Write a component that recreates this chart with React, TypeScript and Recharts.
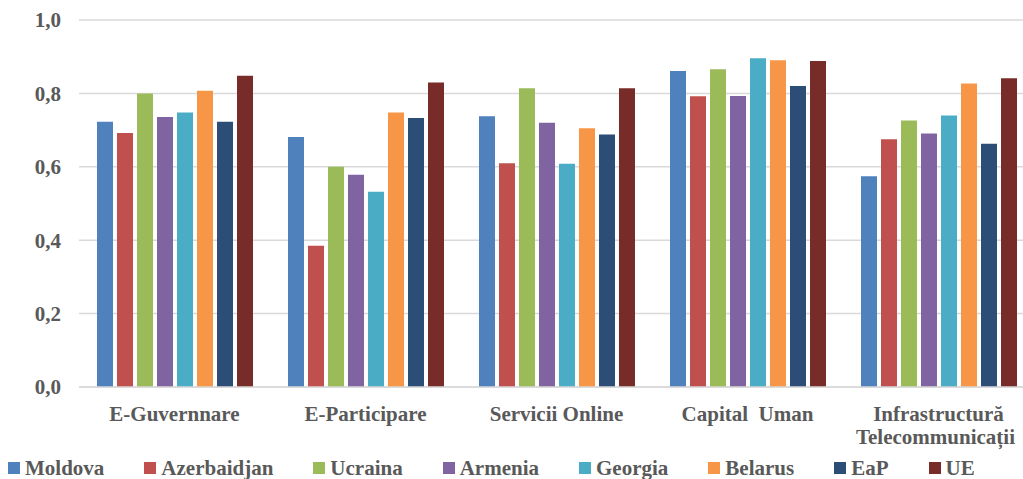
import React from 'react';
import { BarChart, Bar, XAxis, YAxis, CartesianGrid } from 'recharts';

const categories = ['E-Guvernnare', 'E-Participare', 'Servicii Online', 'Capital  Uman', 'Infrastructură\nTelecommunicații'];
const seriesNames = ['Moldova', 'Azerbaidjan', 'Ucraina', 'Armenia', 'Georgia', 'Belarus', 'EaP', 'UE'];
const seriesColors = ['#4f81bd', '#c0504d', '#9bbb59', '#8064a2', '#4bacc6', '#f79646', '#2c4d75', '#772c2a'];

const moldova = [0.723, 0.681, 0.738, 0.861, 0.574];
const azerbaidjan = [0.692, 0.385, 0.610, 0.792, 0.675];
const ucraina = [0.800, 0.600, 0.814, 0.866, 0.726];
const armenia = [0.736, 0.578, 0.720, 0.793, 0.691];
const georgia = [0.748, 0.532, 0.608, 0.896, 0.740];
const belarus = [0.807, 0.748, 0.705, 0.890, 0.827];
const eap = [0.723, 0.733, 0.688, 0.820, 0.663];
const ue = [0.848, 0.830, 0.814, 0.888, 0.841];

const yTicks = [0, 0.2, 0.4, 0.6, 0.8, 1.0];

const seriesValues = [moldova, azerbaidjan, ucraina, armenia, georgia, belarus, eap, ue];

const data = categories.map((c, i) => {
  const row: Record<string, string | number> = { category: c };
  seriesNames.forEach((s, j) => {
    row[s] = seriesValues[j][i];
  });
  return row;
});

const FONT = '"Liberation Serif", "Times New Roman", serif';
const TEXT_COLOR = '#595959';

const CatTick = (props: any) => {
  const { x, y, payload } = props;
  const lines = String(payload.value).split('\n');
  return (
    <text
      x={x}
      y={y}
      textAnchor="middle"
      fill={TEXT_COLOR}
      style={{ fontFamily: FONT, fontWeight: 700, fontSize: 21, whiteSpace: 'pre' }}
    >
      {lines.map((l, i) => (
        <tspan key={i} x={i === 0 ? x : x - 3} dy={i === 0 ? 34 : 23}>
          {l}
        </tspan>
      ))}
    </text>
  );
};

export default function App() {
  return (
    <div style={{ position: 'absolute', left: 0, top: 0, width: 1023, height: 479, overflow: 'hidden', background: '#fff' }}>
      <BarChart
        width={1034}
        height={479}
        data={data}
        margin={{ top: 20, right: 0, bottom: 0, left: 0 }}
        barGap={4}
        barSize={16}
      >
        <CartesianGrid vertical={false} stroke="#d9d9d9" strokeWidth={1.5} />
        <XAxis
          dataKey="category"
          height={92}
          axisLine={{ stroke: '#d9d9d9', strokeWidth: 1.5 }}
          tickLine={false}
          tickSize={0}
          tickMargin={0}
          interval={0}
          tick={<CatTick />}
        />
        <YAxis
          width={79}
          domain={[0, 1]}
          ticks={yTicks}
          axisLine={false}
          tickLine={false}
          tickMargin={12}
          tickFormatter={(v: number) => v.toFixed(1).replace('.', ',')}
          tick={{ fill: TEXT_COLOR, fontFamily: FONT, fontWeight: 700, fontSize: 21 }}
        />
        {seriesNames.map((s, j) => (
          <Bar key={s} dataKey={s} fill={seriesColors[j]} isAnimationActive={false} />
        ))}
      </BarChart>
      <div
        style={{
          position: 'absolute',
          left: 8,
          top: 459,
          height: 18,
          display: 'flex',
          alignItems: 'center',
          fontFamily: FONT,
          fontWeight: 700,
          fontSize: 21,
          color: TEXT_COLOR,
          lineHeight: '18px',
          whiteSpace: 'nowrap',
          zIndex: 10,
        }}
      >
        {seriesNames.map((s, j) => (
          <div key={s} style={{ display: 'flex', alignItems: 'center', marginRight: 40 }}>
            <span style={{ display: 'inline-block', width: 12, height: 12, background: seriesColors[j], marginRight: 5 }} />
            <span>{s}</span>
          </div>
        ))}
      </div>
    </div>
  );
}
